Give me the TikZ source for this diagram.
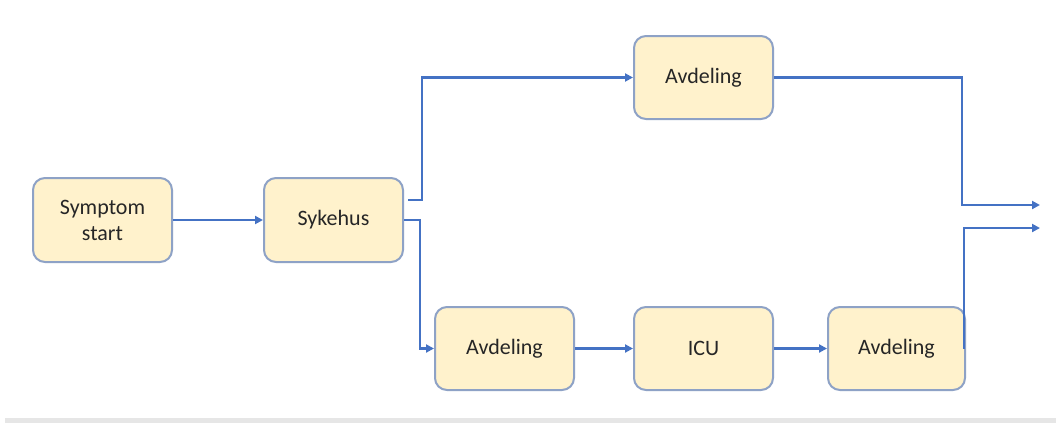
\documentclass[tikz,border=0pt]{standalone}
\usepackage{fontspec}
\setmainfont{Carlito}
\usetikzlibrary{arrows.meta,calc}
\definecolor{boxfill}{HTML}{FFF2CC}
\definecolor{boxline}{HTML}{8EA2C6}
\definecolor{connblue}{HTML}{4472C4}
\definecolor{band}{HTML}{E6E6E6}
\tikzset{
  stepbox/.style={draw=boxline, line width=2pt, fill=boxfill, rounded corners=12pt,
    minimum width=139pt, minimum height=84pt, align=center, inner sep=2pt,
    font=\fontsize{22}{26}\selectfont, text=black!85},
  conn/.style={draw=connblue, line width=2.3pt, -{Triangle[length=8pt,width=8pt]}}
}
\begin{document}
\begin{tikzpicture}[x=1pt,y=-1pt]
\useasboundingbox (0,0) rectangle (1056,423);
\fill[white] (0,0) rectangle (1056,423);
\fill[band] (5,418) rectangle (1056,423);
\node[stepbox] (ss) at (102.5,220) {Symptom\\start};
\node[stepbox] (sy) at (333.5,220) {Sykehus};
\node[stepbox, minimum height=83pt] (at) at (703.5,77.5) {Avdeling};
\node[stepbox, minimum height=83pt] (a1) at (504.5,348.5) {Avdeling};
\node[stepbox, minimum height=83pt] (icu) at (703.5,348.5) {ICU};
\node[stepbox, minimum height=83pt, minimum width=137pt] (a3) at (896.5,348.5) {Avdeling};
\coordinate (out1) at (1040,205);
\coordinate (out2) at (1040,228);
\coordinate (j1) at (962,205);
\draw[conn] (ss) -- (sy);
\draw[conn] ([shift={(4,-20)}]sy.east) -- ++(14,0) |- (at.west);
\draw[conn] (sy.east) -- ++(16,0) |- (a1.west);
\draw[conn] (a1) -- (icu);
\draw[conn] (icu) -- (a3);
\draw[conn] (at.east) -| (j1) -- (out1);
\draw[conn] ([xshift=-2pt]a3.east) |- (out2);
\end{tikzpicture}
\end{document}
